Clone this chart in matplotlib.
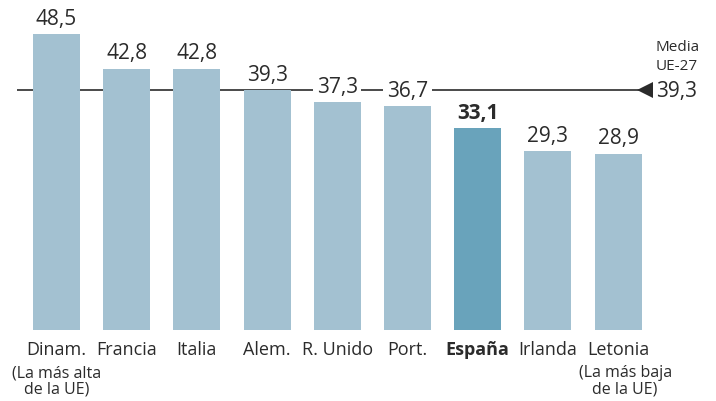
import matplotlib.pyplot as plt

paises = ['Dinam.', 'Francia', 'Italia', 'Alem.', 'R. Unido', 'Port.', 'España', 'Irlanda', 'Letonia']
valores = [48.5, 42.8, 42.8, 39.3, 37.3, 36.7, 33.1, 29.3, 28.9]
etiquetas = ['48,5', '42,8', '42,8', '39,3', '37,3', '36,7', '33,1', '29,3', '28,9']
media_ue = 39.3
media_txt = '39,3'

plt.rcParams['font.family'] = ['Open Sans', 'DejaVu Sans']
gris = '#2b2b2b'

fig = plt.figure(figsize=(7.16, 4.02), dpi=100)
ax = fig.add_axes([0, 0, 1, 1])
ax.set_xlim(-0.805, 9.395)
ax.set_ylim(-11.64, 54.26)
ax.axis('off')

x = list(range(len(paises)))
colores = ['#69a3bb' if p == 'España' else '#a3c1d1' for p in paises]

# linea de la media, detras de las barras
ax.hlines(media_ue, -0.56, 8.3, color=gris, lw=1.2, zorder=1)
ax.plot([8.38], [media_ue], marker='<', color=gris, ms=11, mew=0, zorder=3)
ax.bar(x, valores, width=0.67, color=colores, zorder=2)

for xi, v, t, p in zip(x, valores, etiquetas, paises):
    negrita = 'bold' if p == 'España' else 'normal'
    ax.text(xi, v + 0.9, t, ha='center', va='bottom', fontsize=15, color=gris,
            fontweight=negrita, zorder=4,
            bbox=dict(facecolor='white', edgecolor='none', pad=2.5))
    ax.text(xi, -1.7, p, ha='center', va='top', fontsize=13, color=gris,
            fontweight=negrita)

ax.text(0, -5.6, '(La más alta\nde la UE)', ha='center', va='top', fontsize=11.5,
        color=gris, linespacing=1.05)
ax.text(8.1, -5.6, '(La más baja\nde la UE)', ha='center', va='top', fontsize=11.5,
        color=gris, linespacing=1.05)

ax.text(8.54, media_ue, media_txt, ha='left', va='center', fontsize=15, color=gris)
ax.text(8.54, media_ue + 2.9, 'Media\nUE-27', ha='left', va='bottom', fontsize=11,
        color=gris, linespacing=1.35)

fig.savefig('out.png', dpi=100)
